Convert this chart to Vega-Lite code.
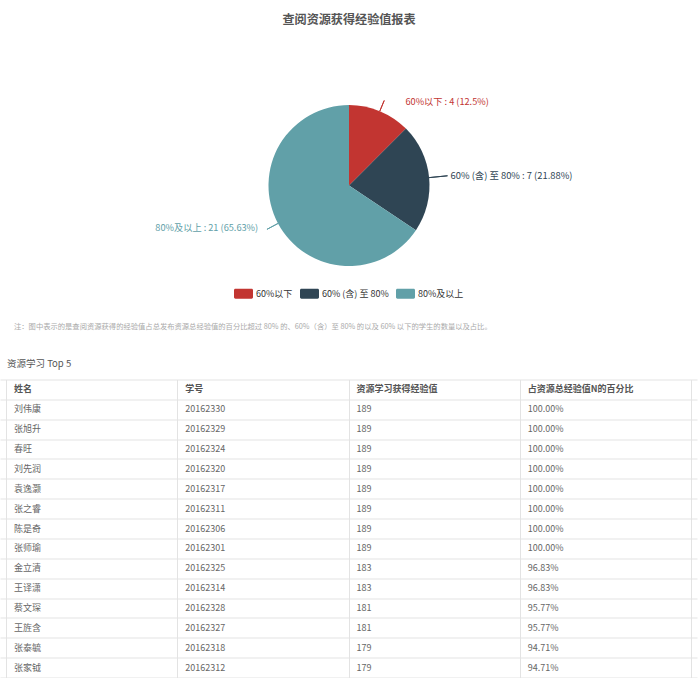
{
  "$schema": "https://vega.github.io/schema/vega-lite/v6.json",
  "background": "white",
  "padding": {"left": 0, "right": 0, "top": 14, "bottom": 0},
  "spacing": 27.5,
  "title": {"text": "查阅资源获得经验值报表", "fontSize": 12.1, "fontWeight": "bold", "color": "#555555", "anchor": "middle", "offset": 25.5},
  "datasets": {
    "pie": [
      {"idx": 1, "category": "60%以下", "count": 4, "label": "60%以下 : 4 (12.5%)"},
      {"idx": 2, "category": "60% (含) 至 80%", "count": 7, "label": "60% (含) 至 80% : 7 (21.88%)"},
      {"idx": 3, "category": "80%及以上", "count": 21, "label": "80%及以上 : 21 (65.63%)"}
    ],
    "table": [
      {"r": 1, "name": "刘伟康", "sid": "20162330", "exp": 189, "pct": "100.00%"},
      {"r": 2, "name": "张旭升", "sid": "20162329", "exp": 189, "pct": "100.00%"},
      {"r": 3, "name": "春旺", "sid": "20162324", "exp": 189, "pct": "100.00%"},
      {"r": 4, "name": "刘先润", "sid": "20162320", "exp": 189, "pct": "100.00%"},
      {"r": 5, "name": "袁逸灏", "sid": "20162317", "exp": 189, "pct": "100.00%"},
      {"r": 6, "name": "张之睿", "sid": "20162311", "exp": 189, "pct": "100.00%"},
      {"r": 7, "name": "陈是奇", "sid": "20162306", "exp": 189, "pct": "100.00%"},
      {"r": 8, "name": "张师瑜", "sid": "20162301", "exp": 189, "pct": "100.00%"},
      {"r": 9, "name": "金立清", "sid": "20162325", "exp": 183, "pct": "96.83%"},
      {"r": 10, "name": "王译潇", "sid": "20162314", "exp": 183, "pct": "96.83%"},
      {"r": 11, "name": "蔡文琛", "sid": "20162328", "exp": 181, "pct": "95.77%"},
      {"r": 12, "name": "王旌含", "sid": "20162327", "exp": 181, "pct": "95.77%"},
      {"r": 13, "name": "张泰毓", "sid": "20162318", "exp": 179, "pct": "94.71%"},
      {"r": 14, "name": "张家钺", "sid": "20162312", "exp": 179, "pct": "94.71%"}
    ],
    "header": [
      {"r": 0, "key": "name", "label": "姓名"},
      {"r": 0, "key": "sid", "label": "学号"},
      {"r": 0, "key": "exp", "label": "资源学习获得经验值"},
      {"r": 0, "key": "pct", "label": "占资源总经验值N的百分比"}
    ]
  },
  "resolve": {"legend": {"color": "independent"}},
  "vconcat": [
    {
      "width": 698,
      "height": 267,
      "title": {
        "text": "注：图中表示的是查阅资源获得的经验值占总发布资源总经验值的百分比超过 80% 的、60%（含）至 80% 的以及 60% 以下的学生的数量以及占比。",
        "orient": "bottom", "anchor": "start", "dx": 14, "offset": 4,
        "fontSize": 7.3, "fontWeight": "normal", "color": "#aaaaaa"
      },
      "data": {"name": "pie"},
      "resolve": {"scale": {"theta": "independent"}},
      "encoding": {
        "theta": {"field": "count", "type": "quantitative", "stack": true},
        "order": {"field": "idx", "type": "quantitative"},
        "color": {
          "field": "category", "type": "nominal",
          "scale": {"domain": ["60%以下", "60% (含) 至 80%", "80%及以上"], "range": ["#c23531", "#2f4554", "#61a0a8"]},
          "legend": {
            "orient": "none", "direction": "horizontal", "legendX": 234, "legendY": 232,
            "title": null,
            "symbolType": "M-0.85,-0.53H0.85A0.15,0.15 0 0 1 1,-0.38V0.38A0.15,0.15 0 0 1 0.85,0.53H-0.85A0.15,0.15 0 0 1 -1,0.38V-0.38A0.15,0.15 0 0 1 -0.85,-0.53Z",
            "symbolSize": 361, "symbolStrokeWidth": 0, "symbolOpacity": 1,
            "labelFontSize": 9, "labelColor": "#333333", "labelOffset": 3, "columnPadding": 7
          }
        }
      },
      "layer": [
        {"mark": {"type": "arc", "outerRadius": 80.5}},
        {
          "mark": {"type": "arc", "innerRadius": 80.5, "outerRadius": 92, "padAngle": 3, "filled": false, "strokeWidth": 1},
          "encoding": {"strokeOpacity": {"condition": {"test": "datum.category === '60%以下'", "value": 1}, "value": 0}}
        },
        {
          "mark": {"type": "arc", "innerRadius": 80.5, "outerRadius": 99, "padAngle": 3, "filled": false, "strokeWidth": 1},
          "encoding": {"strokeOpacity": {"condition": {"test": "datum.category === '60% (含) 至 80%'", "value": 1}, "value": 0}}
        },
        {
          "mark": {"type": "arc", "innerRadius": 80.5, "outerRadius": 93, "padAngle": 3, "filled": false, "strokeWidth": 1},
          "encoding": {
            "theta": {"field": "count", "type": "quantitative", "stack": true, "scale": {"range": [2.1108, 5.2524]}},
            "strokeOpacity": {"condition": {"test": "datum.category === '80%及以上'", "value": 1}, "value": 0}
          }
        },
        {
          "mark": {"type": "text", "radius": 90, "align": "left", "baseline": "middle", "dx": 22, "fontSize": 9.2},
          "encoding": {"text": {"condition": {"test": "datum.category === '60%以下'", "field": "label", "type": "nominal"}, "value": ""}}
        },
        {
          "mark": {"type": "text", "radius": 100, "align": "left", "baseline": "middle", "dx": 2, "dy": 0.5, "fontSize": 9.4},
          "encoding": {"text": {"condition": {"test": "datum.category === '60% (含) 至 80%'", "field": "label", "type": "nominal"}, "value": ""}}
        },
        {
          "mark": {"type": "text", "radius": 86, "align": "right", "baseline": "middle", "dx": -15, "dy": 2, "fontSize": 9.2},
          "encoding": {"text": {"condition": {"test": "datum.category === '80%及以上'", "field": "label", "type": "nominal"}, "value": ""}}
        }
      ]
    },
    {
      "width": 697,
      "height": 298,
      "title": {"text": "资源学习 Top 5", "anchor": "start", "dx": 7, "offset": 11, "fontSize": 9.5, "fontWeight": "normal", "color": "#555555"},
      "encoding": {
        "x": {
          "field": "key", "type": "nominal", "bandPosition": 0,
          "scale": {"domain": ["name", "sid", "exp", "pct"], "paddingInner": 0, "paddingOuter": 0.035},
          "axis": {"title": null, "labels": false, "ticks": false, "domain": false, "grid": true, "tickBand": "extent", "gridColor": "#e3e3e3", "minExtent": 0, "maxExtent": 0, "orient": "top"}
        },
        "y": {
          "field": "r", "type": "ordinal",
          "scale": {"domain": [0, 1, 2, 3, 4, 5, 6, 7, 8, 9, 10, 11, 12, 13, 14], "paddingInner": 0, "paddingOuter": 0},
          "axis": {"title": null, "labels": false, "ticks": false, "domain": false, "grid": true, "tickBand": "extent", "gridColor": "#e3e3e3", "minExtent": 0, "maxExtent": 0}
        }
      },
      "layer": [
        {
          "data": {"name": "table"},
          "transform": [{"fold": ["name", "sid", "exp", "pct"], "as": ["key", "value"]}],
          "mark": {"type": "text", "align": "left", "baseline": "middle", "dx": 8, "fontSize": 9, "color": "#666666"},
          "encoding": {"text": {"field": "value", "type": "nominal"}}
        },
        {
          "data": {"name": "header"},
          "mark": {"type": "text", "align": "left", "baseline": "middle", "dx": 8, "fontSize": 9, "fontWeight": "bold", "color": "#555555"},
          "encoding": {"text": {"field": "label", "type": "nominal"}}
        }
      ]
    }
  ],
  "config": {
    "font": "Noto Sans CJK SC",
    "view": {"stroke": null}
  }
}
